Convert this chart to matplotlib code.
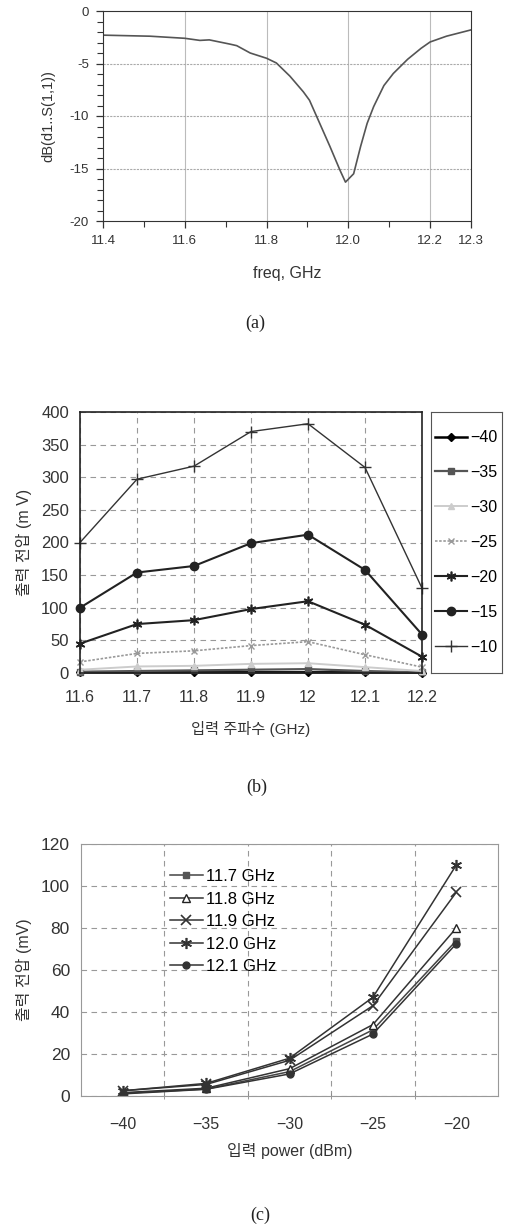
import matplotlib
matplotlib.use("Agg")
import matplotlib.pyplot as plt

plt.rcParams['font.family'] = ['Liberation Sans', 'Noto Sans CJK KR', 'DejaVu Sans']

# ---- (a) simulated return loss ---------------------------------------------
freq_a = [11.40, 11.515, 11.60, 11.637, 11.66, 11.71, 11.727, 11.76, 11.80,
          11.824, 11.857, 11.89, 11.905, 11.93, 11.955, 11.98, 11.993, 12.013,
          12.03, 12.046, 12.062, 12.087, 12.11, 12.145, 12.178, 12.20, 12.24,
          12.30]
s11_db = [-2.3, -2.4, -2.6, -2.8, -2.75, -3.15, -3.3, -4.0, -4.5,
          -4.95, -6.2, -7.7, -8.5, -10.7, -12.9, -15.2, -16.3, -15.5,
          -12.9, -10.7, -9.1, -7.1, -5.95, -4.6, -3.55, -2.95, -2.4,
          -1.8]

# ---- (b) output voltage vs frequency, one series per input power -----------
freq_b = [11.6, 11.7, 11.8, 11.9, 12.0, 12.1, 12.2]
freq_b_labels = ["11.6", "11.7", "11.8", "11.9", "12", "12.1", "12.2"]
power_labels = ["\u221240", "\u221235", "\u221230", "\u221225", "\u221220",
                "\u221215", "\u221210"]
v_m40 = [1, 1, 1, 1, 1, 1, 0.5]
v_m35 = [2, 3, 4, 5, 6, 3, 1]
v_m30 = [5, 10, 11, 14, 15, 9, 3]
v_m25 = [17, 30, 34, 42, 48, 28, 9]
v_m20 = [45, 75, 81, 98, 110, 74, 25]
v_m15 = [100, 154, 164, 199, 212, 158, 59]
v_m10 = [200, 297, 317, 370, 382, 315, 130]

# ---- (c) output voltage vs input power, one series per frequency -----------
power_c = [-40, -35, -30, -25, -20]
freq_labels = ["11.7 GHz", "11.8 GHz", "11.9 GHz", "12.0 GHz", "12.1 GHz"]
v_117 = [1.3, 3.3, 11.6, 31.5, 74]
v_118 = [1.6, 3.7, 13, 34, 80]
v_119 = [2.5, 5.5, 17, 43, 97]
v_120 = [2.5, 6, 18, 47, 110]
v_121 = [1.0, 3.2, 10.5, 29.5, 72.5]

fig = plt.figure(figsize=(5.08, 12.26), dpi=100)
W, H = 508.0, 1226.0


def box(left, top, right, bottom):
    return [left / W, 1 - bottom / H, (right - left) / W, (bottom - top) / H]


ast = (6, 2, 0)  # six-armed asterisk marker

# ---------------------------------------------------------------- panel (a)
ax_a = fig.add_axes(box(103, 11, 471, 221))
ax_a.plot(freq_a, s11_db, color="#555555", lw=1.2)
ax_a.set_xlim(11.4, 12.3)
ax_a.set_ylim(-20, 0)
ax_a.set_xticks([11.4, 11.6, 11.8, 12.0, 12.2, 12.3])
ax_a.set_xticklabels(["11.4", "11.6", "11.8", "12.0", "12.2", "12.3"])
ax_a.set_xticks([11.5, 11.7, 11.9, 12.1], minor=True)
ax_a.set_yticks([0, -5, -10, -15, -20])
ax_a.set_yticklabels(["0", "-5", "-10", "-15", "-20"])
ax_a.set_yticks(range(-19, 0), minor=True)
for xv in [11.6, 11.8, 12.0, 12.2]:
    ax_a.axvline(xv, color="#bbbbbb", lw=0.8, zorder=0)
for yv in [-5, -10, -15]:
    ax_a.axhline(yv, color="#aaaaaa", lw=0.8, ls=(0, (2, 1)), zorder=0)
ax_a.tick_params(which="major", direction="out", length=5, width=0.9,
                 labelsize=9.5, pad=5, colors="#333333")
ax_a.tick_params(which="minor", direction="out", length=4, width=0.8,
                 colors="#333333")
for sp in ax_a.spines.values():
    sp.set_color("#333333")
ax_a.set_xlabel("freq, GHz", fontsize=11.5, color="#333333")
ax_a.xaxis.set_label_coords(0.5, -0.215)
ax_a.set_ylabel("dB(d1..S(1,1))", fontsize=10.5, color="#333333")
ax_a.yaxis.set_label_coords(-0.13, 0.5)

# ---------------------------------------------------------------- panel (b)
ax_b = fig.add_axes(box(80, 412, 422, 673))
series_b = [v_m40, v_m35, v_m30, v_m25, v_m20, v_m15, v_m10]
styles_b = [
    dict(color="black", marker="D", ms=4, lw=1.8),
    dict(color="#555555", marker="s", ms=4, lw=1.6),
    dict(color="#cccccc", marker="^", ms=5, lw=1.4),
    dict(color="#999999", marker="x", ms=5, lw=1.2, ls=(0, (1.5, 1))),
    dict(color="#222222", marker=ast, ms=7, lw=1.5, mew=1.2),
    dict(color="#222222", marker="o", ms=6, lw=1.5),
    dict(color="#333333", marker="+", ms=8, lw=1.0, mew=1.0),
]
handles = []
for vals, lab, st in zip(series_b, power_labels, styles_b):
    ln, = ax_b.plot(freq_b, vals, label=lab, clip_on=False, **st)
    handles.append(ln)
ax_b.set_xlim(11.6, 12.2)
ax_b.set_ylim(0, 400)
ax_b.set_xticks(freq_b)
ax_b.set_xticklabels(freq_b_labels)
ax_b.set_yticks(range(0, 401, 50))
ax_b.grid(True, color="#999999", ls=(0, (5, 4)), lw=0.8)
ax_b.set_axisbelow(True)
ax_b.tick_params(axis="x", length=0, pad=12, labelsize=11.5, colors="#333333")
ax_b.tick_params(axis="y", length=0, pad=8, labelsize=12, colors="#333333")
for sp in ax_b.spines.values():
    sp.set_color("#222222")
    sp.set_linewidth(1.2)
ax_b.set_xlabel("입력 주파수 (GHz)", fontsize=11, color="#333333")
ax_b.xaxis.set_label_coords(0.5, -0.185)
ax_b.set_ylabel("출력 전압 (m V)", fontsize=11.5, color="#333333")
ax_b.yaxis.set_label_coords(-0.14, 0.5)

# legend box to the right of panel (b)
ax_leg = fig.add_axes(box(431, 412, 502, 673))
ax_leg.set_xticks([])
ax_leg.set_yticks([])
for sp in ax_leg.spines.values():
    sp.set_color("#555555")
ax_leg.legend(handles=handles, loc="center", frameon=False, fontsize=11.5,
              labelspacing=1.25, handlelength=2.0, handletextpad=0.2,
              borderaxespad=0, borderpad=0)

# ---------------------------------------------------------------- panel (c)
ax_c = fig.add_axes(box(81, 844, 498, 1096))
series_c = [v_117, v_118, v_119, v_120, v_121]
styles_c = [
    dict(color="#444444", marker="s", ms=5, mfc="#555555", mec="#555555"),
    dict(color="#333333", marker="^", ms=6, mfc="white", mec="#222222"),
    dict(color="#333333", marker="x", ms=7, mew=1.2),
    dict(color="#333333", marker=ast, ms=8, mew=1.2),
    dict(color="#333333", marker="o", ms=5, mfc="#333333"),
]
for vals, lab, st in zip(series_c, freq_labels, styles_c):
    ax_c.plot(power_c, vals, label=lab, lw=1.1, **st)
ax_c.set_xlim(-42.5, -17.5)
ax_c.set_ylim(0, 120)
ax_c.set_xticks(power_c)
ax_c.set_xticks([-37.5, -32.5, -27.5, -22.5], minor=True)
ax_c.set_yticks(range(0, 121, 20))
ax_c.grid(True, axis="y", which="major", color="#999999", ls=(0, (5, 4)), lw=0.8)
ax_c.grid(True, axis="x", which="minor", color="#999999", ls=(0, (5, 4)), lw=0.8)
ax_c.set_axisbelow(True)
ax_c.tick_params(axis="x", which="major", length=0, pad=15, labelsize=11.5,
                 colors="#333333")
ax_c.tick_params(axis="x", which="minor", length=4, direction="inout",
                 color="#888888")
ax_c.tick_params(axis="y", length=0, pad=8, labelsize=12.5, colors="#333333")
for sp in ax_c.spines.values():
    sp.set_color("#999999")
ax_c.legend(loc="upper left", bbox_to_anchor=(0.213, 0.9), frameon=False,
            fontsize=12, labelspacing=0.45, handlelength=2.0,
            handletextpad=0.2, borderaxespad=0, borderpad=0)
ax_c.set_xlabel("입력 power (dBm)", fontsize=11.5, color="#333333")
ax_c.xaxis.set_label_coords(0.5, -0.185)
ax_c.set_ylabel("출력 전압 (mV)", fontsize=11.5, color="#333333")
ax_c.yaxis.set_label_coords(-0.117, 0.5)

# ---------------------------------------------------------------- captions
for txt, xc, yc in [("(a)", 255, 323), ("(b)", 257, 787), ("(c)", 260, 1215)]:
    fig.text(xc / W, 1 - yc / H, txt, ha="center", va="center",
             family="Liberation Serif", fontsize=13, color="#222222")

fig.savefig("out.png", dpi=100)
